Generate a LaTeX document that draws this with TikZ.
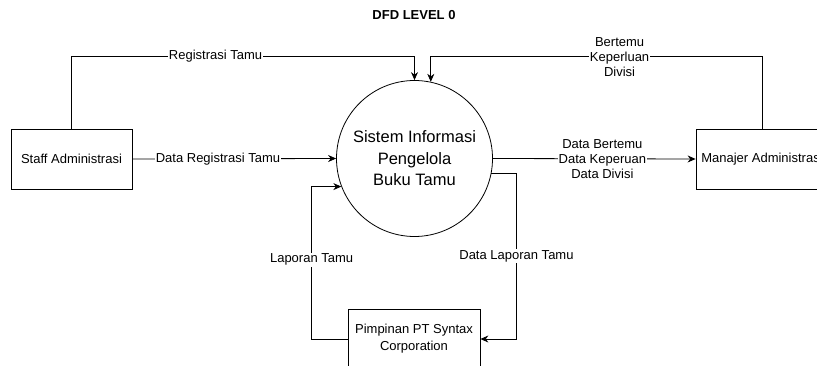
\documentclass[tikz,border=0pt]{standalone}
\usepackage{fontspec}
\setmainfont{Liberation Sans}
\usepackage{tikz}
\usetikzlibrary{arrows.meta}
\tikzset{entity/.style={draw,rectangle,inner sep=0pt,minimum height=60pt,align=center,font=\fontsize{13}{17}\selectfont}}
\tikzset{process/.style={draw,circle,inner sep=0pt,minimum size=156pt,align=center,font=\fontsize{16.5}{21.5}\selectfont}}
\tikzset{lbl/.style={fill=white,inner sep=1pt,align=center,font=\fontsize{13}{15}\selectfont}}

\begin{document}
\begin{tikzpicture}[x=1pt,y=-1pt,line width=0.8pt,>={Stealth[length=8pt,width=7pt]}]
		\path[use as bounding box,clip] (0,0) rectangle (817,366);
		\node[font=\bfseries\fontsize{13}{15}\selectfont] (title) at (414,15) {DFD LEVEL 0};
		\node[process] (sys) at (414.5,158.5) {Sistem Informasi\\Pengelola\\Buku Tamu};
		\node[entity,minimum width=121pt] (staff) at (71.5,159) {Staff Administrasi};
		\node[entity,minimum width=132pt] (mgr) at (762,159) {Manajer Administrasi};
		\node[entity,minimum width=132pt] (pimp) at (414,339) {Pimpinan PT Syntax\\Corporation};
		
		
		\draw[->] (staff.north) -- ++(0,-72) -| node[lbl,pos=0.21]{Registrasi Tamu} (sys.north);
		\draw[->] (staff.east) -- node[lbl,pos=0.42]{Data Registrasi Tamu} (sys.west);
		\draw[->] (mgr.north) -- ++(0,-72) -| node[lbl,pos=0.215]{Bertemu\\Keperluan\\Divisi} (sys.78);
		\draw[->] (sys.east) -- node[lbl,pos=0.54]{Data Bertemu\\Data Keperuan\\Data Divisi} (mgr.west);
		\draw[->] (pimp.west) -- ++(-36,0) |- node[lbl,pos=0.26]{Laporan Tamu} (sys.201);
		\draw[->] (sys.-11) -- ++(25,0) |- node[lbl,pos=0.25]{Data Laporan Tamu} (pimp.east);
		\end{tikzpicture}
\end{document}
